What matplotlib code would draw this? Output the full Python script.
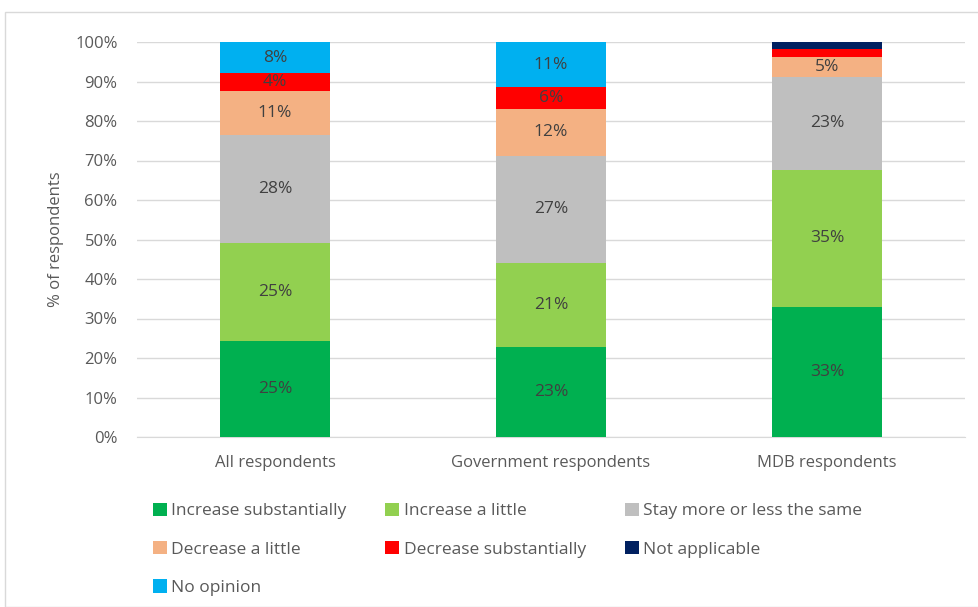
import matplotlib.pyplot as plt
import numpy as np
from matplotlib.patches import Rectangle, Patch

plt.rcParams['font.family'] = ['Open Sans', 'DejaVu Sans']

categories = ["All respondents", "Government respondents", "MDB respondents"]
series = ["Increase substantially", "Increase a little", "Stay more or less the same",
          "Decrease a little", "Decrease substantially", "Not applicable", "No opinion"]
inc_sub = [24.4, 22.8, 32.9]
inc_little = [24.7, 21.3, 34.8]
same = [27.4, 27.1, 23.4]
dec_little = [11.1, 11.9, 5.1]
dec_sub = [4.5, 5.5, 2.1]
not_app = [0.0, 0.0, 1.7]
no_opinion = [7.9, 11.4, 0.0]
labels = [["25%", "23%", "33%"], ["25%", "21%", "35%"], ["28%", "27%", "23%"],
          ["11%", "12%", "5%"], ["4%", "6%", ""], ["", "", ""], ["8%", "11%", ""]]
colors = ["#00B050", "#92D050", "#BFBFBF", "#F4B183", "#FF0000", "#002060", "#00B0F0"]

data = [inc_sub, inc_little, same, dec_little, dec_sub, not_app, no_opinion]

fig = plt.figure(figsize=(9.79, 6.07), dpi=100)
# outer frame
fig.patches.append(Rectangle((5/979, 0), 1 - 5/979, 1 - 12/607, transform=fig.transFigure,
                             fill=False, edgecolor="#D9D9D9", linewidth=1))
ax = fig.add_axes([137/979, 1 - 437/607, (965-137)/979, (437-42)/607])

x = np.arange(len(categories))
bottom = np.zeros(len(categories))
for vals, col, name, labs in zip(data, colors, series, labels):
    v = np.array(vals)
    ax.bar(x, v, 0.4, bottom=bottom, color=col, label=name, zorder=3)
    for i in range(len(x)):
        if labs[i]:
            ax.text(x[i], bottom[i] + v[i] / 2, labs[i], ha="center", va="center",
                    fontsize=12.5, color="#404040", zorder=4)
    bottom += v

ax.set_xlim(-0.5, 2.5)
ax.set_ylim(0, 100)
ax.set_yticks(np.arange(0, 101, 10))
ax.set_yticklabels([f"{t}%" for t in range(0, 101, 10)])
ax.set_xticks(x)
ax.set_xticklabels(categories)
ax.tick_params(axis="both", length=0, labelsize=12, colors="#595959")
ax.tick_params(axis="x", pad=13)
ax.tick_params(axis="y", pad=14)
ax.grid(axis="y", color="#D9D9D9", linewidth=1, zorder=0)
for s in ["top", "right", "left"]:
    ax.spines[s].set_visible(False)
ax.spines["bottom"].set_color("#D9D9D9")
ax.set_ylabel("% of respondents", fontsize=12, color="#595959", labelpad=8)

handles = [Patch(facecolor=c, label=n) for c, n in zip(colors, series)]
order = [0, 3, 6, 1, 4, 2, 5]
handles = [handles[i] for i in order]
leg = fig.legend(handles=handles, ncol=3, loc="upper left", bbox_to_anchor=(137/979, 1 - 487/607),
                 frameon=False, fontsize=12.5, handlelength=0.8, handleheight=0.8,
                 handletextpad=0.25, columnspacing=2.25, labelspacing=1.25)
for t in leg.get_texts():
    t.set_color("#595959")

fig.savefig("out.png", dpi=100)
